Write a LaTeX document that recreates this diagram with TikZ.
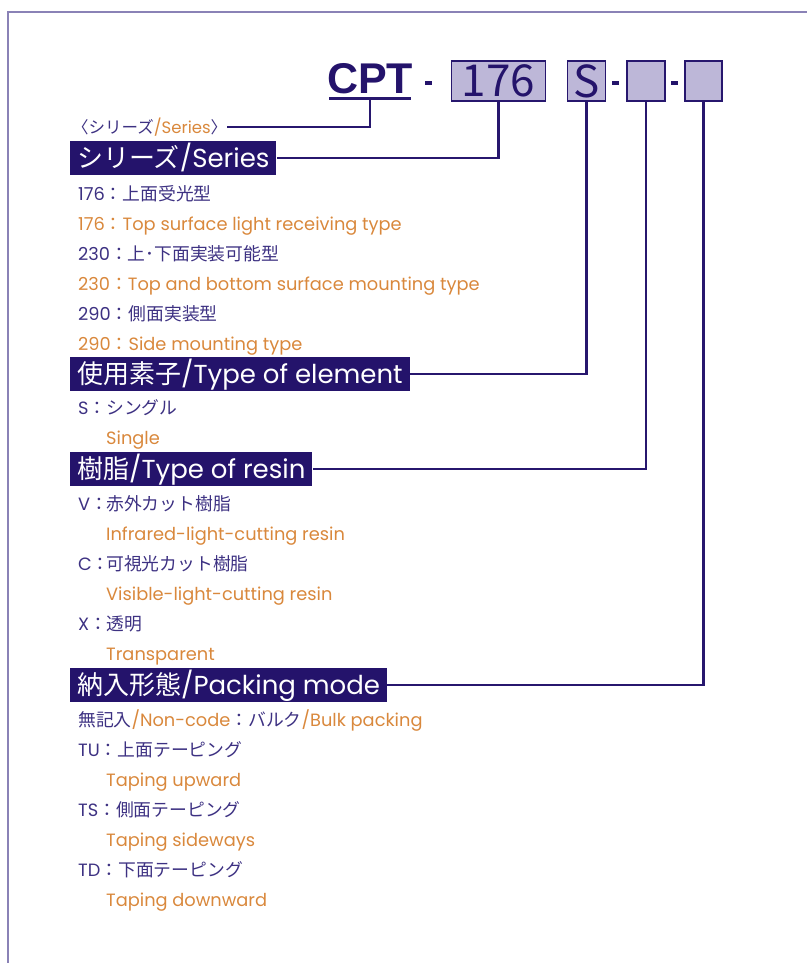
\documentclass[tikz,border=0pt]{standalone}
\usepackage{fontspec}
\setmainfont{Poppins}
\newfontfamily\jpf{Noto Sans CJK JP}
\newfontfamily\cptfont{Liberation Sans}
\newcommand{\J}[1]{{\jpf #1}}
\definecolor{hdrc}{HTML}{24136B}
\definecolor{linec}{HTML}{27176E}
\definecolor{boxc}{HTML}{BDB7D8}
\definecolor{framec}{HTML}{8A82B6}
\definecolor{txtp}{HTML}{3D3182}
\definecolor{txto}{HTML}{D9883C}
\begin{document}
\begin{tikzpicture}[x=1pt,y=-1pt,
  jp/.style={anchor=base west, inner sep=0pt, text=txtp, font=\fontsize{17.8}{20}\selectfont},
  en/.style={jp, text=txto},
  hdr/.style={anchor=west, fill=hdrc, text=white, inner xsep=7pt, inner ysep=0pt,
    minimum height=34pt, text height=21pt, text depth=3pt, font=\fontsize{26}{28}\selectfont},
  codebox/.style={draw=linec, fill=boxc, line width=1.4pt, minimum height=40pt, inner sep=0pt,
    text=hdrc, font=\jpf\fontsize{44}{46}\selectfont},
  conn/.style={draw=linec, line width=2.4pt},
  dashmark/.style={fill=hdrc, minimum width=7pt, minimum height=3.5pt, inner sep=0pt}
]
\useasboundingbox (0,0) rectangle (806,963);
% frame
\draw[framec, line width=2pt] (7.5,970) -- (7.5,12.5) -- (812,12.5);

% code line
\node[anchor=base, inner sep=0pt, text=hdrc, font=\cptfont\bfseries\fontsize{43}{45}\selectfont] (cpt) at (370,94) {CPT};
\draw[linec, line width=3pt] (329,99) -- (411,99);
\coordinate (cptu) at (370,100);
\node[dashmark] (d1) at (428.5,83) {};
\node[codebox, minimum width=94pt] (b176) at (498.5,81) {176};
\node[codebox, minimum width=38pt] (bs) at (586.5,81) {S};
\node[dashmark] (d2) at (615,83) {};
\node[codebox, minimum width=38pt] (b3) at (646,81) {};
\node[dashmark] (d3) at (674,83) {};
\node[codebox, minimum width=37pt] (b4) at (703.5,81) {};

% series label
\node[jp, text height=13pt, text depth=1pt, anchor=base west, font=\fontsize{16.5}{20}\selectfont] (lbl) at (72,133)
  {\J{〈シリーズ}\textcolor{txto}{/Series}\J{〉}};

% headers
\node[hdr] (h1) at (70,158) {\J{シリーズ}/Series};
\node[hdr] (h2) at (70,374) {\J{使用素子}/Type of element};
\node[hdr] (h3) at (70,469) {\J{樹脂}/Type of resin};
\node[hdr] (h4) at (70,685) {\J{納入形態}/Packing mode};

% connectors
\draw[conn] (cptu) |- (lbl.east);
\draw[conn] (b176.south) |- (h1.east);
\draw[conn] (bs.south) |- (h2.east);
\draw[conn] (b3.south) |- (h3.east);
\draw[conn] (b4.south) |- (h4.east);

% series items
\node[jp] (s1) at (78,200) {176\J{：上面受光型}};
\node[en] (s1e) at (78,230) {176\J{：}Top surface light receiving type};
\node[jp] (s2) at (78,260) {230\J{：上･下面実装可能型}};
\node[en] (s2e) at (78,290) {230\J{：}Top and bottom surface mounting type};
\node[jp] (s3) at (78,320) {290\J{：側面実装型}};
\node[en] (s3e) at (78,350) {290\J{：}Side mounting type};

% element
\node[jp] (e1) at (78,414) {\makebox[28pt][l]{S\J{：}}\J{シングル}};
\node[en] (e1e) at (106,444) {Single};

% resin
\node[jp] (r1) at (78,510) {\makebox[28pt][l]{V\J{：}}\J{赤外カット樹脂}};
\node[en] (r1e) at (106,540) {Infrared-light-cutting resin};
\node[jp] (r2) at (78,570) {\makebox[28pt][l]{C\J{：}}\J{可視光カット樹脂}};
\node[en] (r2e) at (106,600) {Visible-light-cutting resin};
\node[jp] (r3) at (78,630) {\makebox[28pt][l]{X\J{：}}\J{透明}};
\node[en] (r3e) at (106,660) {Transparent};

% packing
\node[jp] (p1) at (78,726) {\J{無記入}\textcolor{txto}{/Non-code}\J{：バルク}\textcolor{txto}{/Bulk packing}};
\node[jp] (p2) at (78,756) {TU\J{：上面テーピング}};
\node[en] (p2e) at (106,786) {Taping upward};
\node[jp] (p3) at (78,816) {TS\J{：側面テーピング}};
\node[en] (p3e) at (106,846) {Taping sideways};
\node[jp] (p4) at (78,876) {TD\J{：下面テーピング}};
\node[en] (p4e) at (106,906) {Taping downward};
\end{tikzpicture}
\end{document}
